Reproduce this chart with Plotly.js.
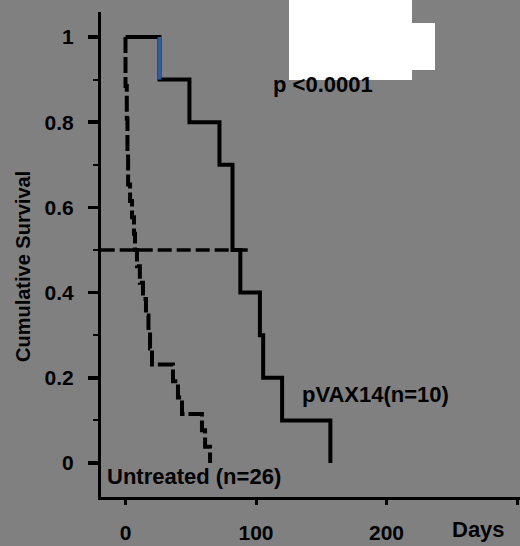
<!DOCTYPE html>
<html>
<head>
<meta charset="utf-8">
<script src="https://cdn.plot.ly/plotly-3.0.1.min.js"></script>
<style>
  html, body { margin: 0; padding: 0; background: #808080; }
  #chart { width: 520px; height: 546px; }
</style>
</head>
<body>
<div id="chart"></div>
<script>
// ---- data ----
const pvaxDays = [0, 26, 49, 72, 82, 88, 103, 105.5, 120, 157];
const pvaxSurv = [1, 0.9, 0.8, 0.7, 0.5, 0.4, 0.3, 0.2, 0.1, 0];

const untreatedDays = [0, 0, 1, 1.5, 2, 3.5, 5, 6.5, 7.3, 8.8, 11, 13.4, 15.7, 17.6, 18.8, 20.3, 36.4, 40.2, 43.3, 58.6, 61, 64.8];
const untreatedSurv = [1, 0.885, 0.808, 0.731, 0.654, 0.615, 0.577, 0.538, 0.5, 0.462, 0.423, 0.385, 0.346, 0.308, 0.269, 0.231, 0.192, 0.154, 0.115, 0.077, 0.038, 0];

const medianDays = [-19, 95];
const medianSurv = [0.5, 0.5];

const yTickVals = [0, 0.2, 0.4, 0.6, 0.8, 1];
const yTickText = ['0', '0.2', '0.4', '0.6', '0.8', '1'];
const xTickVals = [0, 100, 200, 300];
const xTickText = ['0', '100', '200', ''];

const labelP = 'p <0.0001';
const labelPvax = 'pVAX14(n=10)';
const labelUntreated = 'Untreated (n=26)';
const labelX = 'Days';
const labelY = 'Cumulative Survival';

// ---- layout helpers (pixel -> paper) ----
const L = 101, T = 12, W = 419, H = 485;
const px = x => (x - L) / W;
const py = y => (T + H - y) / H;
const FONT = 'Liberation Sans, Arial, sans-serif';

const traces = [
  {
    x: medianDays, y: medianSurv, mode: 'lines',
    line: { color: '#000', width: 3.5, dash: '14px,5px' },
    hoverinfo: 'skip', cliponaxis: true
  },
  {
    x: untreatedDays, y: untreatedSurv, mode: 'lines',
    line: { color: '#000', width: 4, shape: 'hv', dash: '16px,4px' },
    hoverinfo: 'skip'
  },
  {
    x: pvaxDays, y: pvaxSurv, mode: 'lines',
    line: { color: '#000', width: 4, shape: 'hv' },
    hoverinfo: 'skip'
  },
  {
    x: [pvaxDays[1], pvaxDays[1]], y: [pvaxSurv[0], pvaxSurv[1]], mode: 'lines',
    line: { color: '#2e5c9c', width: 4 },
    hoverinfo: 'skip'
  }
];

const textFont = { family: FONT, size: 22, color: '#000', weight: 'bold' };

const layout = {
  width: 520, height: 546,
  margin: { l: L, r: 520 - L - W, t: T, b: 546 - T - H, pad: 0 },
  paper_bgcolor: '#808080',
  plot_bgcolor: '#808080',
  showlegend: false,
  xaxis: {
    range: [-18.77, 302.3],
    showgrid: false, zeroline: false,
    showline: true, linecolor: '#000', linewidth: 3,
    tickvals: xTickVals, ticktext: xTickText,
    ticks: 'outside', ticklen: 5, tickwidth: 3, tickcolor: '#000',
    ticklabelstandoff: 10,
    tickfont: { family: FONT, size: 21, color: '#000', weight: 'bold' },
    fixedrange: true
  },
  yaxis: {
    range: [-0.0798, 1.0587],
    showgrid: false, zeroline: false,
    showline: true, linecolor: '#000', linewidth: 3,
    tickvals: yTickVals, ticktext: yTickText,
    ticks: 'outside', ticklen: 10, tickwidth: 3.5, tickcolor: '#000',
    minor: { dtick: 0.1, tick0: 0, ticks: 'outside', ticklen: 5, tickwidth: 2, tickcolor: '#000' },
    ticklabelstandoff: 10,
    tickfont: { family: FONT, size: 21, color: '#000', weight: 'bold' },
    fixedrange: true
  },
  shapes: [
    { type: 'rect', xref: 'paper', yref: 'paper', x0: px(289), x1: px(412), y0: py(80), y1: py(0),
      fillcolor: '#fff', line: { width: 0 }, layer: 'above' },
    { type: 'rect', xref: 'paper', yref: 'paper', x0: px(411), x1: px(435), y0: py(70), y1: py(23),
      fillcolor: '#fff', line: { width: 0 }, layer: 'above' }
  ],
  annotations: [
    { text: labelP, xref: 'paper', yref: 'paper', x: px(271), y: py(84), xanchor: 'left', yanchor: 'middle',
      showarrow: false, font: textFont },
    { text: labelPvax, xref: 'paper', yref: 'paper', x: px(300), y: py(394), xanchor: 'left', yanchor: 'middle',
      showarrow: false, font: textFont },
    { text: labelUntreated, xref: 'paper', yref: 'paper', x: px(105), y: py(476), xanchor: 'left', yanchor: 'middle',
      showarrow: false, font: textFont },
    { text: labelX, xref: 'paper', yref: 'paper', x: px(450), y: py(529), xanchor: 'left', yanchor: 'middle',
      showarrow: false, font: textFont },
    { text: labelY, xref: 'paper', yref: 'paper', x: px(23), y: py(267), xanchor: 'center', yanchor: 'middle',
      textangle: -90, showarrow: false, font: { family: FONT, size: 20, color: '#000', weight: 'bold' } }
  ]
};

Plotly.newPlot('chart', traces, layout, { staticPlot: true, displayModeBar: false });
</script>
</body>
</html>
